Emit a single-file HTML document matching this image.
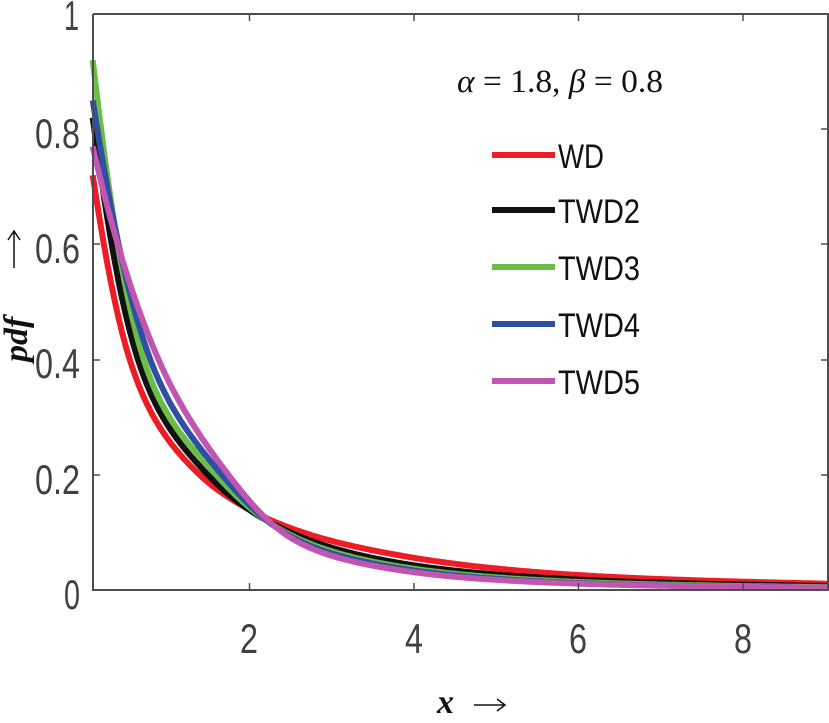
<!DOCTYPE html>
<html><head><meta charset="utf-8"><style>
body{margin:0;background:#fff;width:829px;height:718px;overflow:hidden}
.s{font-family:"Liberation Sans",sans-serif}
.r{font-family:"Liberation Serif",serif}
</style></head><body>
<svg id="s" width="829" height="718" viewBox="0 0 829 718" xmlns="http://www.w3.org/2000/svg">
<rect x="0" y="0" width="829" height="718" fill="#fff"/>
<g id="curves"></g>
<path d="M93 14 V590 H828 M93 14 H828 V590" fill="none" stroke="#4d4d4d" stroke-width="2"/>
<g stroke="#4d4d4d" stroke-width="1.5">
<line x1="93" y1="475" x2="100" y2="475"/><line x1="93" y1="360" x2="100" y2="360"/><line x1="93" y1="244" x2="100" y2="244"/><line x1="93" y1="129" x2="100" y2="129"/>
<line x1="821" y1="475" x2="828" y2="475"/><line x1="821" y1="360" x2="828" y2="360"/><line x1="821" y1="244" x2="828" y2="244"/><line x1="821" y1="129" x2="828" y2="129"/>
<line x1="249.5" y1="590" x2="249.5" y2="583"/><line x1="414" y1="590" x2="414" y2="583"/><line x1="578.5" y1="590" x2="578.5" y2="583"/><line x1="743" y1="590" x2="743" y2="583"/>
<line x1="249.5" y1="14" x2="249.5" y2="21"/><line x1="414" y1="14" x2="414" y2="21"/><line x1="578.5" y1="14" x2="578.5" y2="21"/><line x1="743" y1="14" x2="743" y2="21"/>
</g>
<g class="s" fill="#404040" font-size="42">
<text x="64" y="30" textLength="15" lengthAdjust="spacingAndGlyphs">1</text>
<text x="35" y="148" textLength="45" lengthAdjust="spacingAndGlyphs">0.8</text>
<text x="35" y="263" textLength="45" lengthAdjust="spacingAndGlyphs">0.6</text>
<text x="35" y="378" textLength="45" lengthAdjust="spacingAndGlyphs">0.4</text>
<text x="35" y="494" textLength="45" lengthAdjust="spacingAndGlyphs">0.2</text>
<text x="64" y="609" textLength="16" lengthAdjust="spacingAndGlyphs">0</text>
</g>
<g class="s" fill="#404040" font-size="42">
<text x="240" y="653" textLength="18" lengthAdjust="spacingAndGlyphs">2</text>
<text x="405" y="653" textLength="18" lengthAdjust="spacingAndGlyphs">4</text>
<text x="569" y="653" textLength="18" lengthAdjust="spacingAndGlyphs">6</text>
<text x="734" y="653" textLength="18" lengthAdjust="spacingAndGlyphs">8</text>
</g>
<text class="r" x="437" y="713" font-style="italic" font-weight="bold" font-size="34" fill="#111">x</text>
<path d="M474 705 H504 M497 699 L505 705 L497 711" fill="none" stroke="#111" stroke-width="1.5"/>
<g transform="translate(27 362) rotate(-90)">
<text class="r" x="0" y="0" font-style="italic" font-weight="bold" font-size="34" fill="#111">pdf</text>
</g>
<path d="M14 268 V232 M8 240 L14 231 L20 240" fill="none" stroke="#111" stroke-width="1.5"/>
<text class="r" x="457" y="92" font-size="33" fill="#111" textLength="206" lengthAdjust="spacingAndGlyphs"><tspan font-style="italic">α</tspan> = 1.8, <tspan font-style="italic">β</tspan> = 0.8</text>
<g stroke-width="6">
<line x1="492" y1="155" x2="555" y2="155" stroke="#ee1c25"/>
<line x1="492" y1="210" x2="555" y2="210" stroke="#111"/>
<line x1="492" y1="267" x2="555" y2="267" stroke="#6abd45"/>
<line x1="492" y1="324" x2="555" y2="324" stroke="#2e4fa3"/>
<line x1="492" y1="381" x2="555" y2="381" stroke="#c056b0"/>
</g>
<g class="s" font-size="34" fill="#111">
<text x="558" y="168" textLength="46" lengthAdjust="spacingAndGlyphs">WD</text>
<text x="558" y="223" textLength="82" lengthAdjust="spacingAndGlyphs">TWD2</text>
<text x="558" y="280" textLength="82" lengthAdjust="spacingAndGlyphs">TWD3</text>
<text x="558" y="337" textLength="82" lengthAdjust="spacingAndGlyphs">TWD4</text>
<text x="558" y="394" textLength="82" lengthAdjust="spacingAndGlyphs">TWD5</text>
</g>
</svg>
<script>
function interp(pts,x){
 var n=pts.length,xs=pts.map(p=>p[0]),ys=pts.map(p=>Math.log(p[1]));
 var d=[],m=[];for(var i=0;i<n-1;i++)d.push((ys[i+1]-ys[i])/(xs[i+1]-xs[i]));
 m[0]=d[0];m[n-1]=d[n-2];for(i=1;i<n-1;i++)m[i]=(d[i-1]*(xs[i+1]-xs[i])+d[i]*(xs[i]-xs[i-1]))/(xs[i+1]-xs[i-1]);
 for(i=0;i<n-1&&x>xs[i+1];i++);if(i>=n-1)i=n-2;
 var h=xs[i+1]-xs[i],t=(x-xs[i])/h,t2=t*t,t3=t2*t;
 var v=(2*t3-3*t2+1)*ys[i]+(t3-2*t2+t)*h*m[i]+(-2*t3+3*t2)*ys[i+1]+(t3-t2)*h*m[i+1];
 return Math.exp(v);
}
var S=[
 ["#ee1c25",[[0.1,0.72],[0.55,0.4],[1.4,0.2],[2,0.14],[4,0.056],[6,0.026],[9,0.011]]],
 ["#111",[[0.1,0.82],[0.65,0.4],[1.5,0.2],[2.6,0.094],[4,0.043],[6,0.018],[9,0.007]]],
 ["#6abd45",[[0.1,0.92],[0.72,0.4],[1.6,0.2],[2.6,0.089],[4,0.037],[6,0.014],[9,0.005]]],
 ["#2e4fa3",[[0.1,0.85],[0.8,0.4],[1.67,0.2],[2.6,0.086],[4,0.034],[6,0.012],[9,0.004]]],
 ["#c056b0",[[0.1,0.77],[0.9,0.4],[1.75,0.2],[2.6,0.083],[4,0.031],[6,0.011],[9,0.004]]]
];
var g=document.getElementById("curves"),ns="http://www.w3.org/2000/svg";
S.forEach(function(s){var d="";for(var x=0.1;x<=9.06;x+=0.02){var y=interp(s[1],Math.min(x,9));var px=84.5+x*82.25,py=590-y*576;d+=(d?"L":"M")+px.toFixed(1)+" "+py.toFixed(1);}
var p=document.createElementNS(ns,"path");p.setAttribute("d",d);p.setAttribute("fill","none");p.setAttribute("stroke",s[0]);p.setAttribute("stroke-width","6");g.appendChild(p);});
</script>
</body></html>
